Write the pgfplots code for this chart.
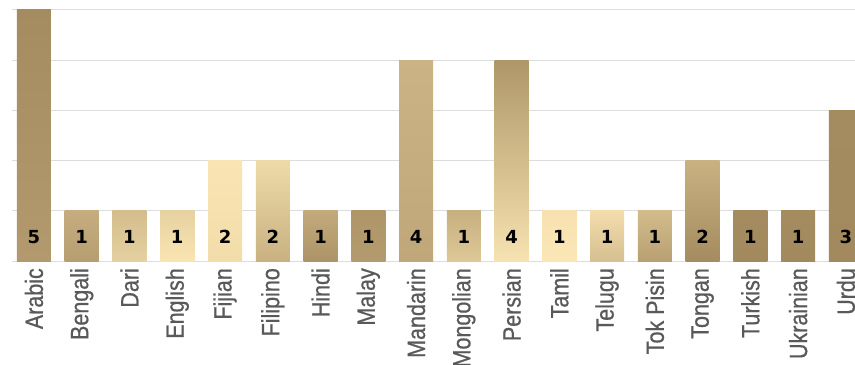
\documentclass[border=0pt]{standalone}
\usepackage{pgfplots}
\pgfplotsset{compat=1.18}
\usepackage{fontspec}
\setmainfont{Liberation Sans}[FakeStretch=0.86]
\newfontfamily\labfont{Liberation Sans}[FakeStretch=0.86, FakeBold=0.7]
\newfontfamily\vfont{DejaVu Sans}
\definecolor{gridc}{HTML}{DDDDDD}
\definecolor{labc}{HTML}{595959}
\definecolor{a1}{HTML}{A48C60}\definecolor{a2}{HTML}{B29A6E}
\definecolor{b1}{HTML}{C5AD7F}\definecolor{b2}{HTML}{B69E70}
\definecolor{c1}{HTML}{D4BD8D}\definecolor{c2}{HTML}{E4D0A0}
\definecolor{d1}{HTML}{E6D1A0}\definecolor{d2}{HTML}{F9E4B2}
\definecolor{e1}{HTML}{FAE4B3}\definecolor{e2}{HTML}{F2DDAA}
\definecolor{f1}{HTML}{EEDAA8}\definecolor{f2}{HTML}{C9B182}
\definecolor{g1}{HTML}{C2AA7C}\definecolor{g2}{HTML}{AC9468}
\definecolor{h1}{HTML}{AE9669}\definecolor{h2}{HTML}{A28A5E}\definecolor{h3}{HTML}{B39B6F}
\definecolor{i1}{HTML}{CBB385}\definecolor{i2}{HTML}{A48C60}\definecolor{i3}{HTML}{BFA779}
\definecolor{j1}{HTML}{C7AF80}\definecolor{j2}{HTML}{DEC898}
\definecolor{k1}{HTML}{AE9668}\definecolor{k2}{HTML}{F7E2B1}
\definecolor{l1}{HTML}{F7E1B0}\definecolor{l2}{HTML}{FBE6B5}
\definecolor{m1}{HTML}{F3DDAB}\definecolor{m2}{HTML}{D6BF90}
\definecolor{n1}{HTML}{D3BC8C}\definecolor{n2}{HTML}{B8A072}
\definecolor{o1}{HTML}{C9B182}\definecolor{o2}{HTML}{A48C60}
\definecolor{p1}{HTML}{A48C60}\definecolor{p2}{HTML}{A28A5E}
\pgfplotsset{
  gb/.style 2 args={ybar, bar width=34pt, bar shift=0pt, draw=none, top color=#1, bottom color=#2},
  gm/.style n args={3}{ybar, bar width=34pt, bar shift=0pt, draw=none, top color=#1, middle color=#2, bottom color=#3},
}
\begin{document}
\begin{tikzpicture}
\begin{axis}[
  name=ax,
  x=47.76pt, y=50.2pt,
  xmin=-0.46, xmax=17.19,
  ymin=0, ymax=5,
  axis x line*=bottom,
  axis y line*=left,
  x axis line style={gridc, line width=1pt},
  y axis line style={draw=none},
  ymajorgrids,
  grid style={gridc, line width=1pt},
  ytick={1,2,3,4,5},
  yticklabels={},
  xtick={0,...,17},
  xticklabels={Arabic,Bengali,Dari,English,Fijian,Filipino,Hindi,Malay,Mandarin,Mongolian,Persian,Tamil,Telugu,Tok Pisin,Tongan,Turkish,Ukrainian,Urdu},
  major tick length=0pt,
  x tick label style={rotate=90, anchor=east, font=\labfont\fontsize{25}{25}\selectfont, text=labc, inner sep=0pt, xshift=-7pt},
]
\addplot[gb={a1}{a2}] coordinates {(0,5)};
\addplot[gb={b1}{b2}] coordinates {(1,1)};
\addplot[gb={c1}{c2}] coordinates {(2,1)};
\addplot[gb={d1}{d2}] coordinates {(3,1)};
\addplot[gb={e1}{e2}] coordinates {(4,2)};
\addplot[gb={f1}{f2}] coordinates {(5,2)};
\addplot[gb={g1}{g2}] coordinates {(6,1)};
\addplot[gm={h1}{h2}{h3}] coordinates {(7,1)};
\addplot[gm={i1}{i2}{i3}] coordinates {(8,4)};
\addplot[gb={j1}{j2}] coordinates {(9,1)};
\addplot[gb={k1}{k2}] coordinates {(10,4)};
\addplot[gb={l1}{l2}] coordinates {(11,1)};
\addplot[gb={m1}{m2}] coordinates {(12,1)};
\addplot[gb={n1}{n2}] coordinates {(13,1)};
\addplot[gb={o1}{o2}] coordinates {(14,2)};
\addplot[gb={p1}{p2}] coordinates {(15,1)};
\addplot[gb={p1}{p2}] coordinates {(16,1)};
\addplot[gb={p1}{p2}] coordinates {(17,3)};
\addplot[draw=none, mark=none, nodes near coords, point meta=explicit symbolic,
  every node near coord/.style={anchor=center, font=\vfont\bfseries\fontsize{18}{18}\selectfont, text=black}]
  coordinates {(0,0.48)[5] (1,0.48)[1] (2,0.48)[1] (3,0.48)[1] (4,0.48)[2] (5,0.48)[2] (6,0.48)[1] (7,0.48)[1] (8,0.48)[4] (9,0.48)[1] (10,0.48)[4] (11,0.48)[1] (12,0.48)[1] (13,0.48)[1] (14,0.48)[2] (15,0.48)[1] (16,0.48)[1] (17,0.48)[3]};
\end{axis}
\pgfresetboundingbox
\path[use as bounding box] ([xshift=-12pt,yshift=-103pt]ax.south west) rectangle ([yshift=10pt]ax.north east);
\end{tikzpicture}
\end{document}
